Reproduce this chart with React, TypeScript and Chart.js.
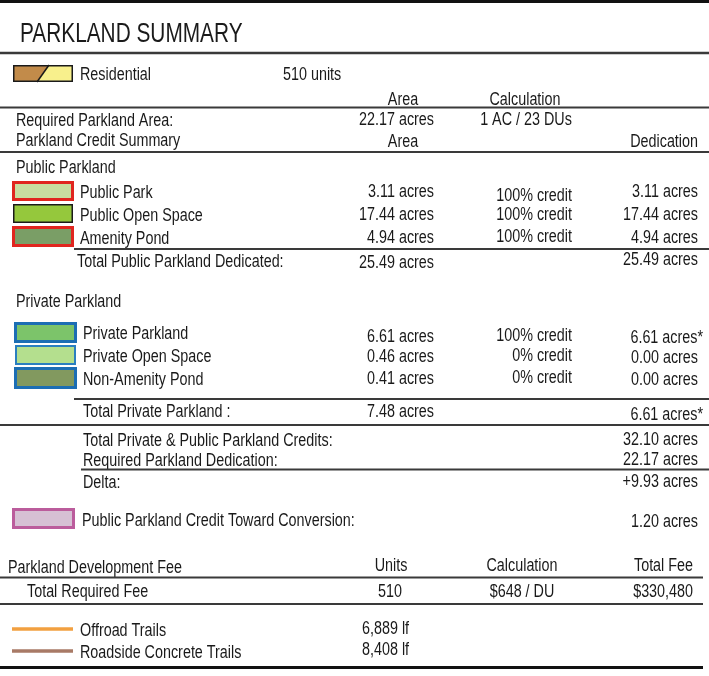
import React, { useEffect, useRef } from 'react';
import { Chart, registerables } from 'chart.js';
Chart.register(...registerables);

// ---------------- data ----------------
const titleText = 'PARKLAND SUMMARY';
const residentialLabel = 'Residential';
const residentialUnits = 510;
const requiredArea = 22.17;
const requiredRatio = '1 AC / 23 DUs';
const publicNames = ['Public Park', 'Public Open Space', 'Amenity Pond'];
const publicAreas = [3.11, 17.44, 4.94];
const publicCredits = [100, 100, 100];
const publicDedications = [3.11, 17.44, 4.94];
const publicTotals = [25.49, 25.49]; // area, dedication
const privateNames = ['Private Parkland', 'Private Open Space', 'Non-Amenity Pond'];
const privateAreas = [6.61, 0.46, 0.41];
const privateCredits = [100, 0, 0];
const privateDedications = [6.61, 0.0, 0.0];
const privateStarred = [true, false, false];
const privateTotals = [7.48, 6.61];
const summaryLabels = ['Total Private & Public Parkland Credits:', 'Required Parkland Dedication:', 'Delta:'];
const summaryValues = [32.1, 22.17, 9.93];
const conversionLabel = 'Public Parkland Credit Toward Conversion:';
const conversionValue = 1.2;
const feeUnits = 510;
const feeRate = 648;
const feeTotal = 330480;
const trailNames = ['Offroad Trails', 'Roadside Concrete Trails'];
const trailLengths = [6889, 8408];

// ---------------- styles / layout ----------------
const W = 709;
const H = 676;
const INK = '#1a1a1a';
const RULE = '#3a3a3a';
const publicSwatch = [
  { fill: '#c8dea0', stroke: '#e0261f', lw: 3 },
  { fill: '#95c83c', stroke: '#1a1a1a', lw: 1.5 },
  { fill: '#7a9e66', stroke: '#e0261f', lw: 3 },
];
const privateSwatch = [
  { fill: '#7cc46a', stroke: '#1c6eb4', lw: 3 },
  { fill: '#b4df8e', stroke: '#2a7fc0', lw: 2 },
  { fill: '#82995f', stroke: '#1c6eb4', lw: 3 },
];
const trailColors = ['#f2a040', '#a87a66'];

const acres = (v: number) => v.toFixed(2) + ' acres';
const lf = (v: number) => v.toLocaleString('en-US') + ' lf';

function detectNarrow(): boolean {
  const c = document.createElement('canvas').getContext('2d')!;
  c.font = '100px monospace';
  const a = c.measureText('abcdefghijklmn').width;
  c.font = '100px "Liberation Sans Narrow", monospace';
  const b = c.measureText('abcdefghijklmn').width;
  return Math.abs(a - b) > 1;
}

export default function App() {
  const ref = useRef<HTMLCanvasElement | null>(null);
  useEffect(() => {
    if (!ref.current) return;
    const narrow = detectNarrow();
    const family = narrow ? '"Liberation Sans Narrow", "Arial Narrow", sans-serif' : '"Liberation Sans", Arial, sans-serif';
    const sx = narrow ? 1 : 0.82;

    const tablePlugin = {
      id: 'tablePlugin',
      afterDraw(chart: any) {
        const ctx: CanvasRenderingContext2D = chart.ctx;
        const xs = chart.scales.x;
        const ys = chart.scales.y;
        const X = (v: number) => xs.getPixelForValue(v);
        const Y = (v: number) => ys.getPixelForValue(v);

        const text = (s: string, x: number, y: number, align: CanvasTextAlign = 'left', size = 17.5, sy = 1) => {
          ctx.save();
          ctx.translate(X(x), Y(y));
          ctx.scale(sx, sy);
          ctx.font = `${size}px ${family}`;
          ctx.textAlign = align;
          ctx.textBaseline = 'alphabetic';
          ctx.fillStyle = INK;
          ctx.fillText(s, 0, 0);
          ctx.restore();
        };
        const hline = (y: number, x1: number, x2: number, w = 2, color = RULE) => {
          ctx.save();
          ctx.strokeStyle = color;
          ctx.lineWidth = w;
          ctx.beginPath();
          ctx.moveTo(X(x1), Y(y));
          ctx.lineTo(X(x2), Y(y));
          ctx.stroke();
          ctx.restore();
        };
        const swatch = (x1: number, y1: number, x2: number, y2: number, s: { fill: string; stroke: string; lw: number }) => {
          ctx.save();
          const px1 = X(x1), py1 = Y(y1), px2 = X(x2), py2 = Y(y2);
          ctx.fillStyle = s.fill;
          ctx.fillRect(px1, py1, px2 - px1, py2 - py1);
          ctx.strokeStyle = s.stroke;
          ctx.lineWidth = s.lw;
          ctx.strokeRect(px1 + s.lw / 2, py1 + s.lw / 2, px2 - px1 - s.lw, py2 - py1 - s.lw);
          ctx.restore();
        };

        // title
        hline(1.5, 0, W, 3, '#111');
        text(titleText, 20, 42, 'left', 25.4, 1.1);
        hline(53, 0, W, 2.5);

        // residential
        ctx.save();
        ctx.fillStyle = '#f8f08c';
        ctx.fillRect(X(13), Y(65), X(73) - X(13), Y(82) - Y(65));
        ctx.fillStyle = '#c28b4a';
        ctx.beginPath();
        ctx.moveTo(X(13), Y(65));
        ctx.lineTo(X(49), Y(65));
        ctx.lineTo(X(37), Y(82));
        ctx.lineTo(X(13), Y(82));
        ctx.closePath();
        ctx.fill();
        ctx.strokeStyle = '#1a1a1a';
        ctx.lineWidth = 1.5;
        ctx.beginPath();
        ctx.moveTo(X(49), Y(65));
        ctx.lineTo(X(37), Y(82));
        ctx.stroke();
        ctx.strokeRect(X(13) + 0.75, Y(65) + 0.75, X(73) - X(13) - 1.5, Y(82) - Y(65) - 1.5);
        ctx.restore();
        text(residentialLabel, 80, 80);
        text(residentialUnits + ' units', 283, 80);

        // header area
        text('Area', 403, 105, 'center');
        text('Calculation', 525, 105, 'center');
        hline(107.5, 0, W, 2);
        text('Required Parkland Area:', 16, 126);
        text(acres(requiredArea), 434, 125, 'right');
        text(requiredRatio, 526, 125, 'center');
        text('Parkland Credit Summary', 16, 146);
        text('Area', 403, 147, 'center');
        text('Dedication', 698, 147, 'right');
        hline(152, 0, W, 2);

        // public parkland
        text('Public Parkland', 16, 173);
        const pubBase = [198, 221, 244];
        const pubCredBase = [201, 220, 242];
        const pubBox = [[181, 201], [204, 223], [226, 247]];
        publicNames.forEach((n, i) => {
          const b = pubBox[i];
          if (i === 1) swatch(13, b[0], 73, b[1], publicSwatch[i]);
          else swatch(12, b[0], 74, b[1], publicSwatch[i]);
          text(n, 80, pubBase[i]);
          text(acres(publicAreas[i]), 434, pubBase[i] - 1, 'right');
          text(publicCredits[i] + '% credit', 572, pubCredBase[i], 'right');
          text(acres(publicDedications[i]), 698, pubBase[i] - 1, 'right');
        });
        hline(249, 74, W, 2);
        text('Total Public Parkland Dedicated:', 77, 267);
        text(acres(publicTotals[0]), 434, 268, 'right');
        text(acres(publicTotals[1]), 698, 265, 'right');

        // private parkland
        text('Private Parkland', 16, 307);
        const privBase = [339, 362, 385];
        const privValBase = [342, 362, 384];
        const privBox = [[322, 343], [345, 365], [367, 389]];
        privateNames.forEach((n, i) => {
          const b = privBox[i];
          if (i === 1) swatch(15, b[0], 76, b[1], privateSwatch[i]);
          else swatch(14, b[0], 77, b[1], privateSwatch[i]);
          text(n, 83, privBase[i]);
          text(acres(privateAreas[i]), 434, privValBase[i], 'right');
          text(privateCredits[i] + '% credit', 572, privValBase[i] - 1, 'right');
          text(acres(privateDedications[i]) + (privateStarred[i] ? '*' : ''), privateStarred[i] ? 703 : 698, privValBase[i] + 1, 'right');
        });
        hline(399, 74, W, 2);
        text('Total Private Parkland :', 83, 417);
        text(acres(privateTotals[0]), 434, 417, 'right');
        text(acres(privateTotals[1]) + '*', 703, 420, 'right');
        hline(425, 0, W, 2);

        // summary
        text(summaryLabels[0], 83, 446);
        text(acres(summaryValues[0]), 698, 445, 'right');
        text(summaryLabels[1], 83, 466);
        text(acres(summaryValues[1]), 698, 465, 'right');
        hline(469.5, 81, W, 2);
        text(summaryLabels[2], 83, 488);
        text('+' + acres(summaryValues[2]), 698, 487, 'right');

        swatch(12, 508, 75, 529, { fill: '#d6c0d4', stroke: '#bb5c9c', lw: 3 });
        text(conversionLabel, 82, 526);
        text(acres(conversionValue), 698, 527, 'right');

        // fee
        text('Parkland Development Fee', 8, 573);
        text('Units', 391, 571, 'center');
        text('Calculation', 522, 571, 'center');
        text('Total Fee', 693, 571, 'right');
        hline(577.5, 0, 703, 2);
        text('Total Required Fee', 27, 597);
        text(String(feeUnits), 390, 597, 'center');
        text('$' + feeRate + ' / DU', 522, 597, 'center');
        text('$' + feeTotal.toLocaleString('en-US'), 693, 597, 'right');
        hline(604, 0, 703, 2);

        // trails
        const trailLineY = [629, 651];
        const trailBase = [635.5, 657.5];
        const trailValBase = [633.5, 654.5];
        trailNames.forEach((n, i) => {
          hline(trailLineY[i], 12, 73, 3.5, trailColors[i]);
          text(n, 80, trailBase[i]);
          text(lf(trailLengths[i]), 362, trailValBase[i]);
        });
        hline(667.5, 0, 703, 3, '#111');
      },
    };

    const chart = new Chart(ref.current, {
      type: 'scatter',
      data: { datasets: [{ data: [] }] },
      options: {
        animation: false,
        responsive: false,
        devicePixelRatio: 1,
        layout: { padding: 0 },
        plugins: { legend: { display: false }, tooltip: { enabled: false } },
        scales: {
          x: { type: 'linear', min: 0, max: W, display: false },
          y: { type: 'linear', min: 0, max: H, reverse: true, display: false },
        },
      },
      plugins: [tablePlugin],
    });
    return () => chart.destroy();
  }, []);

  return (
    <div style={{ position: 'absolute', left: 0, top: 0, width: W, height: H, background: '#fff' }}>
      <canvas ref={ref} width={W} height={H} style={{ display: 'block' }} />
    </div>
  );
}
